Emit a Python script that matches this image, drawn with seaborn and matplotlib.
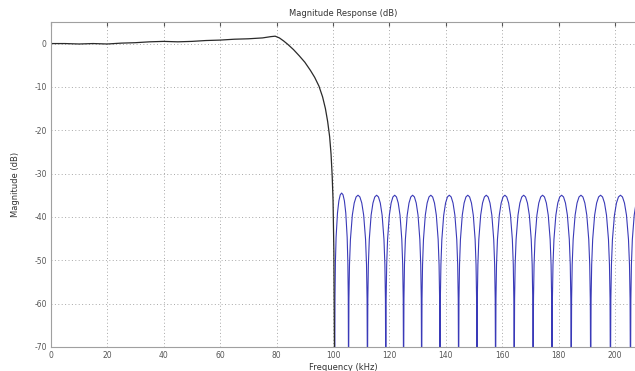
import numpy as np
import pandas as pd
import seaborn as sns
import matplotlib.pyplot as plt

sns.set_style("white")
plt.rcParams['font.family'] = ['DejaVu Sans']
plt.rcParams['axes.unicode_minus'] = False

# Passband + transition band (kHz, dB)
pass_freq = [0, 5, 10, 15, 20, 25, 30, 35, 40, 45, 50, 55, 60, 65, 70, 75, 78, 79.5,
             81, 82.5, 84, 86, 88, 90, 92, 93.5, 95, 96.3, 97.3, 98.1, 98.8, 99.3,
             99.7, 100.0, 100.3, 100.6]
pass_mag = [0.0, 0.0, -0.1, 0.0, -0.1, 0.1, 0.2, 0.4, 0.5, 0.4, 0.5, 0.7, 0.8, 1.0, 1.1, 1.3, 1.6, 1.7,
            1.3, 0.6, -0.2, -1.4, -2.8, -4.3, -6.2, -7.8, -9.8, -12.3, -15.0, -18.0, -21.5, -25.5,
            -30.5, -36.0, -48.0, -80.0]

# Stopband null positions (kHz) and lobe peak levels (dB)
null_freq = [100.6, 105.5, 112.2, 118.7, 125.0, 131.4, 137.9, 144.5, 151.0,
             157.6, 164.2, 170.9, 177.6, 184.4, 191.3, 198.3, 205.4, 212.0]
peak_mag = [-34.5, -35.0, -35.0, -35.0, -35.0, -35.0, -35.0, -35.0, -35.0,
            -35.0, -35.0, -35.0, -35.0, -35.0, -35.0, -35.0, -35.0]

# Shape of one stopband lobe: position across lobe (0..1) and dB below the peak
lobe_pos = [0.0, 0.02, 0.05, 0.1, 0.2, 0.3, 0.4, 0.5, 0.6, 0.7, 0.8, 0.9, 0.95, 0.98, 1.0]
lobe_drop = [-45, -24, -16, -10.2, -4.6, -1.8, -0.4, 0.0, -0.4, -1.8, -4.6, -10.2, -16, -24, -45]

stop_f, stop_m = [], []
for i, pk in enumerate(peak_mag):
    f0, f1 = null_freq[i], null_freq[i + 1]
    for p, d in zip(lobe_pos, lobe_drop):
        stop_f.append(f0 + p * (f1 - f0))
        stop_m.append(pk + d)

df_pass = pd.DataFrame({'freq': pass_freq, 'mag': pass_mag})
df_stop = pd.DataFrame({'freq': stop_f, 'mag': stop_m})

fig = plt.figure(figsize=(6.35, 3.71), dpi=100)
ax = fig.add_axes([0.080, 0.065, 0.92, 0.876])

sns.lineplot(data=df_stop, x='freq', y='mag', ax=ax, color='#3a3ab8', lw=0.8, sort=False)
sns.lineplot(data=df_pass, x='freq', y='mag', ax=ax, color='#2a2a2a', lw=0.9, sort=False)

ax.set_xlim(0, 207)
ax.set_ylim(-70, 5)
ax.set_xticks(np.arange(0, 201, 20))
ax.set_yticks(np.arange(-70, 1, 10))
ax.grid(True, linestyle=(0, (1, 2.5)), color='#a8a8a8', lw=0.7)
ax.tick_params(axis='both', which='both', direction='in', length=3, labelsize=5.5,
               colors='#555555', top=True, right=False, pad=3)
for s in ['left', 'bottom', 'top']:
    ax.spines[s].set_color('#a0a0a0')
    ax.spines[s].set_linewidth(0.8)
ax.spines['right'].set_visible(False)

ax.set_title('Magnitude Response (dB)', fontsize=6, color='#333333', pad=4)
ax.set_xlabel('Frequency (kHz)', fontsize=6, color='#333333', labelpad=2)
ax.set_ylabel('Magnitude (dB)', fontsize=6, color='#333333', labelpad=10)

fig.savefig('out.png', dpi=100)
